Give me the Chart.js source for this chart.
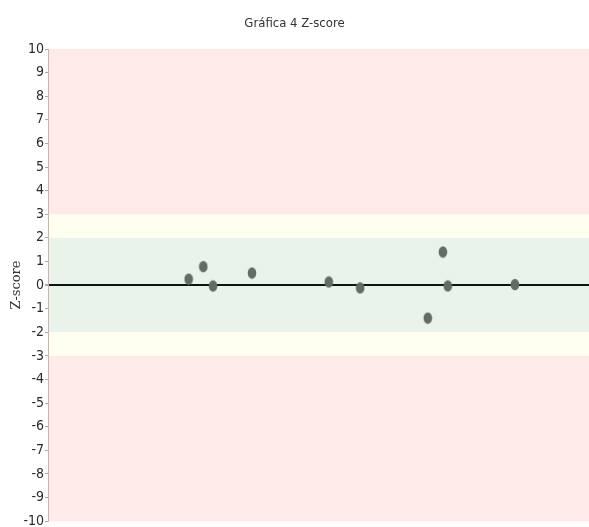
<!DOCTYPE html>
<html>
<head>
<meta charset="utf-8">
<script src="https://cdn.jsdelivr.net/npm/chart.js@4.4.1/dist/chart.umd.min.js"></script>
<style>
  html, body { margin: 0; padding: 0; background: #fff; }
  #wrap { width: 589px; height: 527px; }
</style>
</head>
<body>
<div id="wrap"><canvas id="zchart"></canvas></div>
<script>
// sample positions along the (hidden) x axis and their z-scores
const sampleX = [26, 28.7, 30.5, 37.7, 51.9, 57.7, 70.2, 73.0, 73.9, 86.3];
const zScores = [0.25, 0.78, -0.04, 0.51, 0.13, -0.12, -1.4, 1.4, -0.04, 0.02];

// y ticks and the limit bands
const yTicks = [-10, -9, -8, -7, -6, -5, -4, -3, -2, -1, 0, 1, 2, 3, 4, 5, 6, 7, 8, 9, 10];
const bandLimits = [[3, 10], [2, 3], [-2, 2], [-3, -2], [-10, -3]];
const bandColors = ["#ffeaea", "#fffff0", "#e9f3ea", "#fffff0", "#ffeaea"];

const narrow = "DejaVu Sans Condensed, Liberation Sans Narrow, sans-serif";

// oval marker, taller than wide
const dot = document.createElement("canvas");
dot.width = 10;
dot.height = 13;
const dctx = dot.getContext("2d");
dctx.fillStyle = "#626c64";
dctx.beginPath();
dctx.ellipse(5, 6.5, 4.3, 5.8, 0, 0, Math.PI * 2);
dctx.fill();

const bandsPlugin = {
  id: "bands",
  beforeDraw(chart) {
    const { ctx, chartArea, scales } = chart;
    ctx.save();
    bandLimits.forEach((b, i) => {
      const top = scales.y.getPixelForValue(b[1]);
      const bottom = scales.y.getPixelForValue(b[0]);
      ctx.fillStyle = bandColors[i];
      ctx.fillRect(chartArea.left, top, chartArea.right - chartArea.left, bottom - top);
    });
    ctx.restore();
  }
};

new Chart(document.getElementById("zchart"), {
  type: "scatter",
  plugins: [bandsPlugin],
  data: {
    datasets: [{
      data: sampleX.map((x, i) => ({ x: x, y: zScores[i] })),
      pointStyle: dot,
      pointRadius: 6,
      pointHoverRadius: 6
    }]
  },
  options: {
    responsive: true,
    maintainAspectRatio: false,
    animation: false,
    layout: { autoPadding: false, padding: { left: 0, right: 0, top: 0, bottom: 0 } },
    plugins: {
      legend: { display: false },
      tooltip: { enabled: false },
      title: {
        display: true,
        text: "Gráfica 4 Z-score",
        color: "#333",
        font: { family: narrow, size: 13, weight: "normal", lineHeight: 1.2 },
        padding: { top: 16, bottom: 17.4 }
      }
    },
    scales: {
      x: {
        type: "linear",
        display: false,
        min: 0,
        max: 100
      },
      y: {
        min: -10,
        max: 10,
        afterBuildTicks: (axis) => { axis.ticks = yTicks.map(v => ({ value: v })); },
        afterFit: (axis) => { axis.width = 48; },
        border: { display: true, color: "#c9b4b4", width: 1 },
        grid: {
          drawOnChartArea: true,
          color: (c) => c.tick && c.tick.value === 0 ? "#111" : "rgba(0,0,0,0)",
          lineWidth: (c) => c.tick && c.tick.value === 0 ? 2 : 1,
          tickColor: "#aaa",
          tickLength: 3
        },
        ticks: {
          color: "#2a2a2a",
          padding: 1,
          font: { family: narrow, size: 14, lineHeight: 0.7 }
        },
        title: {
          display: true,
          text: "Z-score",
          color: "#333",
          padding: { top: 9, bottom: 4 },
          font: { family: "DejaVu Serif, serif", size: 13 }
        }
      }
    }
  }
});
</script>
</body>
</html>
